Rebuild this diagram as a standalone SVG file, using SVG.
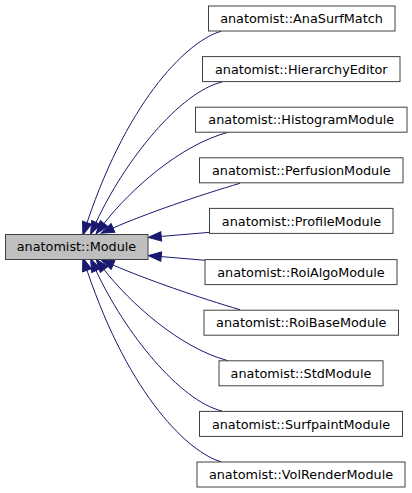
<svg xmlns="http://www.w3.org/2000/svg" width="412" height="493" viewBox="0 0 412 493">
<defs>
<style>
.node rect{fill:#ffffff;stroke:#404040;stroke-width:1}
.node.focus rect{fill:#bfbfbf}
.node text{font-family:"DejaVu Sans","Liberation Sans",sans-serif;font-size:12.8px;fill:#000000;text-anchor:middle}
.edges path{fill:none;stroke:#191970;stroke-width:1}
</style>
<marker id="arr" viewBox="0 -5 14 10" refX="0" refY="0" markerWidth="14" markerHeight="10" markerUnits="userSpaceOnUse" orient="auto" overflow="visible">
<path d="M0,-4.7 L13,0 L0,4.7 Z" fill="#191970" stroke="#191970" stroke-width="1"/>
</marker>
</defs>
<rect width="412" height="493" fill="#ffffff"/>
<g class="edges">
<path marker-end="url(#arr)" d="M221,31.3 C190,40 130,95 87,222.7"/>
<path marker-end="url(#arr)" d="M222,82 C180,92 125,160 96,222.5"/>
<path marker-end="url(#arr)" d="M228,132.3 C180,145 130,190 104,223.5"/>
<path marker-end="url(#arr)" d="M240,183.3 C200,195 145,214 113,228"/>
<path marker-end="url(#arr)" d="M209,232.4 L161.2,236.4"/>
<path marker-end="url(#arr)" d="M209,260.6 L161.2,256.6"/>
<path marker-end="url(#arr)" d="M240,309.7 C200,298 145,279 113,265"/>
<path marker-end="url(#arr)" d="M228,360.7 C180,348 130,303 104,269.5"/>
<path marker-end="url(#arr)" d="M222,411 C180,401 125,333 96,270.5"/>
<path marker-end="url(#arr)" d="M221,461.7 C190,453 130,398 87,270.3"/>
</g>
<g id="node-module" class="node focus"><rect x="5.5" y="234.5" width="142.5" height="25"/><text x="76.5" y="251.2">anatomist::Module</text></g>
<g id="node-anasurfmatch" class="node"><rect x="208.5" y="6" width="186.5" height="25"/><text x="301.5" y="23">anatomist::AnaSurfMatch</text></g>
<g id="node-hierarchyeditor" class="node"><rect x="202.5" y="56.6" width="197.5" height="25"/><text x="301.3" y="73.7">anatomist::HierarchyEditor</text></g>
<g id="node-histogrammodule" class="node"><rect x="195.5" y="107.2" width="211.5" height="25"/><text x="301.3" y="124.3">anatomist::HistogramModule</text></g>
<g id="node-perfusionmodule" class="node"><rect x="199.5" y="157.8" width="203.5" height="25"/><text x="301.3" y="174.9">anatomist::PerfusionModule</text></g>
<g id="node-profilemodule" class="node"><rect x="209.5" y="208.4" width="183.5" height="25"/><text x="301.5" y="225.5">anatomist::ProfileModule</text></g>
<g id="node-roialgomodule" class="node"><rect x="205" y="259.6" width="192" height="25"/><text x="301" y="276.7">anatomist::RoiAlgoModule</text></g>
<g id="node-roibasemodule" class="node"><rect x="204" y="310.2" width="194.5" height="25"/><text x="301.3" y="327.3">anatomist::RoiBaseModule</text></g>
<g id="node-stdmodule" class="node"><rect x="219" y="360.8" width="164" height="25"/><text x="301" y="377.9">anatomist::StdModule</text></g>
<g id="node-surfpaintmodule" class="node"><rect x="199.5" y="411.4" width="203" height="25"/><text x="301" y="428.5">anatomist::SurfpaintModule</text></g>
<g id="node-volrendermodule" class="node"><rect x="197" y="462" width="208" height="25"/><text x="301" y="479.1">anatomist::VolRenderModule</text></g>
</svg>
